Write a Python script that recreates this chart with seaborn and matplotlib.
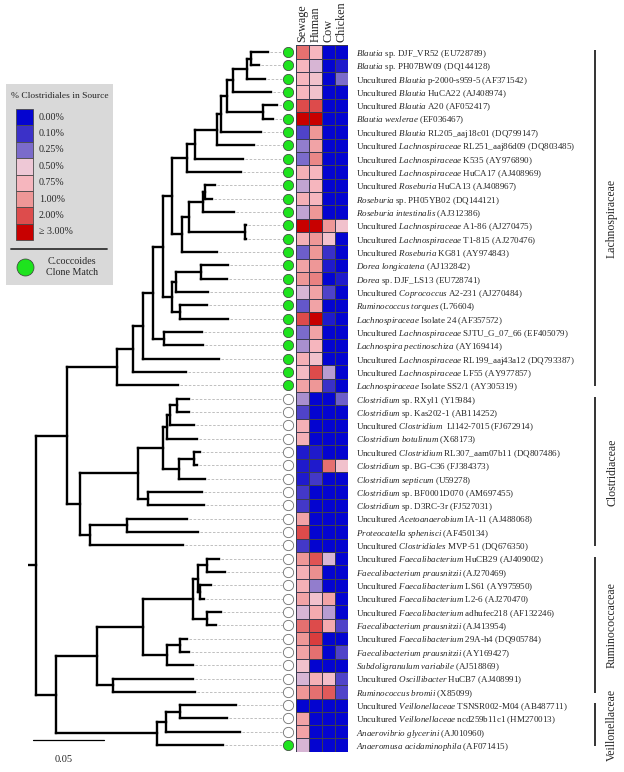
import re
import numpy as np
import pandas as pd
import matplotlib
matplotlib.use("Agg")
import matplotlib.pyplot as plt
import seaborn as sns
from matplotlib.colors import LinearSegmentedColormap
from matplotlib.collections import LineCollection
from matplotlib.patches import Rectangle

# ---------------- data ----------------
taxa = [
    "*Blautia* sp. DJF_VR52 (EU728789)",
    "*Blautia* sp. PH07BW09 (DQ144128)",
    "Uncultured *Blautia* p-2000-s959-5 (AF371542)",
    "Uncultured *Blautia* HuCA22 (AJ408974)",
    "Uncultured *Blautia* A20 (AF052417)",
    "*Blautia wexlerae* (EF036467)",
    "Uncultured *Blautia* RL205_aaj18c01 (DQ799147)",
    "Uncultured *Lachnospiraceae* RL251_aaj86d09 (DQ803485)",
    "Uncultured *Lachnospiraceae* K535 (AY976890)",
    "Uncultured *Lachnospiraceae* HuCA17 (AJ408969)",
    "Uncultured *Roseburia* HuCA13 (AJ408967)",
    "*Roseburia* sp. PH05YB02 (DQ144121)",
    "*Roseburia intestinalis* (AJ312386)",
    "Uncultured *Lachnospiraceae* A1-86 (AJ270475)",
    "Uncultured *Lachnospiraceae* T1-815 (AJ270476)",
    "Uncultured *Roseburia* KG81 (AY974843)",
    "*Dorea longicatena* (AJ132842)",
    "*Dorea* sp. DJF_LS13 (EU728741)",
    "Uncultured *Coprococcus* A2-231 (AJ270484)",
    "*Ruminococcus torques* (L76604)",
    "*Lachnospiraceae* Isolate 24 (AF357572)",
    "Uncultured *Lachnospiraceae* SJTU_G_07_66 (EF405079)",
    "*Lachnospira pectinoschiza* (AY169414)",
    "Uncultured *Lachnospiraceae* RL199_aaj43a12 (DQ793387)",
    "Uncultured *Lachnospiraceae* LF55 (AY977857)",
    "*Lachnospiraceae* Isolate SS2/1 (AY305319)",
    "*Clostridium* sp. RXyl1 (Y15984)",
    "*Clostridium* sp. Kas202-1 (AB114252)",
    "Uncultured *Clostridium*  Ll142-7015 (FJ672914)",
    "*Clostridium botulinum* (X68173)",
    "Uncultured *Clostridium* RL307_aam07b11 (DQ807486)",
    "*Clostridium* sp. BG-C36 (FJ384373)",
    "*Clostridium septicum* (U59278)",
    "*Clostridium* sp. BF0001D070 (AM697455)",
    "*Clostridium* sp. D3RC-3r (FJ527031)",
    "Uncultured *Acetoanaerobium* IA-11 (AJ488068)",
    "*Proteocatella sphenisci* (AF450134)",
    "Uncultured *Clostridiales* MVP-51 (DQ676350)",
    "Uncultured *Faecalibacterium* HuCB29 (AJ409002)",
    "*Faecalibacterium prausnitzii* (AJ270469)",
    "Uncultured *Faecalibacterium* LS61 (AY975950)",
    "Uncultured *Faecalibacterium* L2-6 (AJ270470)",
    "Uncultured *Faecalibacterium* adhufec218 (AF132246)",
    "*Faecalibacterium prausnitzii* (AJ413954)",
    "Uncultured *Faecalibacterium* 29A-h4 (DQ905784)",
    "*Faecalibacterium prausnitzii* (AY169427)",
    "*Subdoligranulum variabile* (AJ518869)",
    "Uncultured *Oscillibacter* HuCB7 (AJ408991)",
    "*Ruminococcus bromii* (X85099)",
    "Uncultured *Veillonellaceae* TSNSR002-M04 (AB487711)",
    "Uncultured *Veillonellaceae* ncd259b11c1 (HM270013)",
    "*Anaerovibrio glycerini* (AJ010960)",
    "*Anaeromusa acidaminophila* (AF071415)",
]

coccoides_match = [1] * 26 + [0] * 26 + [1]

sources = ["Sewage", "Human", "Cow", "Chicken"]
sewage = [1.5, 0.75, 0.75, 0.75, 2.0, 3.0, 0.15, 0.3, 0.25, 0.8, 0.4, 0.8, 0.4,
          3.0, 0.8, 0.22, 0.9, 1.0, 0.45, 0.2, 2.0, 0.25, 0.35, 0.8, 0.7, 0.9,
          0.35, 0.15, 0.8, 0.8, 0.05, 0.05, 0.05, 0.12, 0.12, 0.9, 2.0, 0.12,
          1.0, 0.8, 0.8, 0.9, 0.45, 1.5, 1.0, 0.9, 0.6, 0.45, 1.0,
          0.0, 0.9, 0.9, 0.45]
human = [0.75, 0.45, 0.6, 0.6, 2.0, 3.0, 1.0, 0.9, 1.2, 0.75, 0.75, 0.75, 1.0,
         3.0, 1.0, 1.0, 1.0, 1.3, 0.9, 0.9, 3.0, 0.9, 0.75, 0.6, 2.0, 1.0,
         0.0, 0.0, 0.0, 0.0, 0.05, 0.05, 0.12, 0.0, 0.0, 0.0, 0.0, 0.0,
         1.9, 1.1, 0.3, 0.6, 0.85, 2.0, 2.2, 1.5, 0.0, 0.8, 1.5,
         0.0, 0.0, 0.0, 0.0]
cow = [0.0, 0.0, 0.0, 0.0, 0.0, 0.0, 0.0, 0.0, 0.0, 0.0, 0.0, 0.0, 0.0,
       1.0, 0.6, 0.1, 0.05, 0.0, 0.15, 0.0, 0.05, 0.0, 0.0, 0.0, 0.38, 0.1,
       0.0, 0.0, 0.0, 0.0, 0.0, 1.5, 0.0, 0.0, 0.0, 0.0, 0.0, 0.0,
       0.45, 0.0, 0.0, 0.9, 0.38, 0.85, 0.0, 0.0, 0.0, 0.65, 1.8,
       0.0, 0.0, 0.0, 0.0]
chicken = [0.0, 0.05, 0.25, 0.0, 0.0, 0.0, 0.0, 0.0, 0.0, 0.0, 0.0, 0.0, 0.0,
           0.6, 0.0, 0.0, 0.0, 0.05, 0.0, 0.0, 0.0, 0.0, 0.0, 0.0, 0.0, 0.0,
           0.22, 0.0, 0.0, 0.0, 0.0, 0.6, 0.0, 0.0, 0.0, 0.0, 0.0, 0.0,
           0.0, 0.0, 0.0, 0.0, 0.0, 0.15, 0.0, 0.15, 0.0, 0.15, 0.15,
           0.0, 0.0, 0.0, 0.0]

legend_levels = [0.0, 0.10, 0.25, 0.50, 0.75, 1.00, 2.00, 3.00]
legend_labels = ["0.00%", "0.10%", "0.25%", "0.50%", "0.75%", "1.00%", "2.00%", "\u2265 3.00%"]
legend_colors = ["#0404D0", "#3B31C8", "#7B6BCB", "#EEC8D6", "#F6B6BE",
                 "#EE9797", "#DD4C4C", "#C80000"]

families = ["Lachnospiraceae", "Clostridiaceae", "Ruminococcaceae", "Veillonellaceae"]
family_first = [1, 27, 39, 50]
family_last = [26, 38, 49, 53]

# tree (Newick, branch lengths in substitutions/site; leaves = row numbers)
lachno_nwk = ("(((((("
              "((((((((1:0.0120,2:0.0056):0.0028,3:0.0127):0.0099,4:0.0268):0.0042,"
              "(5:0.0099,6:0.0070):0.0254):0.0042,7:0.0282):0.0028,8:0.0261):0.0155,"
              "9:0.0338):0.0056,10:0.0380)"
              ":0.0106,"
              "((((11:0.0070,12:0.0049):0.0014,13:0.0218):0.0099,(14:0.0007,15:0.0007):0.0394)"
              ":0.0049,16:0.0246)"
              ":0.0070):0.0063,"
              "(((17:0.0190,18:0.0183):0.0176,19:0.0225):0.0028,(20:0.0190,21:0.0338):0.0056)"
              ":0.0063):0.0070,"
              "(22:0.0268,23:0.0275):0.0077):0.0070,"
              "24:0.0535):0.0070,25:0.0373):0.0113,26:0.0430)")
clostri_nwk = ("((((((27:0.0085,28:0.0085):0.0049,29:0.0169):0.0021,30:0.0211):0.0028,"
               "((31:0.0042,32:0.0021):0.0106,33:0.0183):0.0113):0.0176,"
               "(34:0.0380,35:0.0394):0.0070):0.0408,"
               "((36:0.0423,37:0.0500):0.0261,38:0.0655):0.0070)")
rumino_nwk = ("(((((39:0.0085,40:0.0127):0.0063,(41:0.0077,42:0.0028):0.0014):0.0035,"
              "(43:0.0099,44:0.0063):0.0099):0.0352,"
              "((45:0.0049,46:0.0063):0.0092,47:0.0183):0.0169):0.0324,"
              "(48:0.0563,49:0.0577):0.0113)")
veillon_nwk = "(((50:0.0394,51:0.0331):0.0099,52:0.0521):0.0063,53:0.0465)"
tree_nwk = ("((" + lachno_nwk + ":0.0352," + clostri_nwk + ":0.0092):0.0218,("
            + rumino_nwk + ":0.0289," + veillon_nwk + ":0.0711):0.0141):0.0056;")

scale_bar_len = 0.05


# ---------------- helpers ----------------
def parse_newick(s):
    s = s.strip().rstrip(";")
    pos = 0

    def node():
        nonlocal pos
        children = []
        if s[pos] == "(":
            pos += 1
            while True:
                children.append(node())
                if s[pos] == ",":
                    pos += 1
                    continue
                pos += 1  # ')'
                break
        start = pos
        while pos < len(s) and s[pos] not in ":,()":
            pos += 1
        name = s[start:pos]
        length = 0.0
        if pos < len(s) and s[pos] == ":":
            pos += 1
            start = pos
            while pos < len(s) and s[pos] not in ",()":
                pos += 1
            length = float(s[start:pos])
        return {"name": name, "len": length, "children": children}

    return node()


def layout(nd, x0):
    nd["x"] = x0 + nd["len"]
    if nd["children"]:
        for c in nd["children"]:
            layout(c, nd["x"])
        nd["y"] = 0.5 * (nd["children"][0]["y"] + nd["children"][-1]["y"])
    else:
        nd["y"] = int(nd["name"]) - 0.5


def collect(nd, segs, leaves):
    if nd["children"]:
        ys = [c["y"] for c in nd["children"]]
        segs.append([(nd["x"], min(ys)), (nd["x"], max(ys))])
        for c in nd["children"]:
            segs.append([(nd["x"], c["y"]), (c["x"], c["y"])])
            collect(c, segs, leaves)
    else:
        leaves.append(nd)


def to_mathtext(s):
    return re.sub(r"\*(.+?)\*",
                  lambda m: r"$\mathit{" + m.group(1).replace(" ", r"\ ") + "}$", s)


# ---------------- style ----------------
sns.set_theme(style="white")
plt.rcParams["font.family"] = ["Liberation Serif", "DejaVu Serif"]
plt.rcParams["mathtext.fontset"] = "custom"
plt.rcParams["mathtext.rm"] = "Liberation Serif"
plt.rcParams["mathtext.it"] = "Liberation Serif:italic"
plt.rcParams["mathtext.bf"] = "Liberation Serif:bold"

W, H = 624, 772
n = len(taxa)
top_px, row_h = 45.33, 13.33
bot_px = top_px + n * row_h
px_per_unit = 1420.0
tree_left, heat_left, heat_right = 28, 296, 348
green = "#1EE31E"

fig = plt.figure(figsize=(W / 100, H / 100), dpi=100)
fig.patch.set_facecolor("white")

# ---------------- tree ----------------
tax = fig.add_axes([tree_left / W, 1 - bot_px / H, (heat_left - tree_left) / W, n * row_h / H])
tax.set_xlim(0, (heat_left - tree_left) / px_per_unit)
tax.set_ylim(n, 0)
tax.axis("off")

root = parse_newick(tree_nwk)
layout(root, 0.0)
segs, leaves = [], []
segs.append([(0.0, root["y"]), (root["x"], root["y"])])
collect(root, segs, leaves)
tax.add_collection(LineCollection(segs, colors="black", linewidths=1.7,
                                  capstyle="projecting"))

circle_x = (288 - tree_left) / px_per_unit
dash_end = (283 - tree_left) / px_per_unit
for lf in leaves:
    tax.plot([lf["x"] + 2 / px_per_unit, dash_end], [lf["y"], lf["y"]],
             color="#b5b5b5", lw=0.6, ls=(0, (3, 2)), zorder=1)

ys = np.arange(n) + 0.5
match = np.array(coccoides_match, dtype=bool)
tax.scatter(np.full(match.sum(), circle_x), ys[match], s=55, c=green,
            edgecolors="#3a3a3a", linewidths=0.5, zorder=3, clip_on=False)
tax.scatter(np.full((~match).sum(), circle_x), ys[~match], s=55, c="white",
            edgecolors="#707070", linewidths=0.6, zorder=3, clip_on=False)

# scale bar
sb_x0 = (33 - tree_left) / px_per_unit
sb_y = (740 - top_px) / row_h
tax.plot([sb_x0, sb_x0 + scale_bar_len], [sb_y, sb_y], color="black", lw=0.9,
         clip_on=False)
tax.text(sb_x0 + scale_bar_len * 0.43, (760 - top_px) / row_h, f"{scale_bar_len:.2f}",
         ha="center", va="center", fontsize=7.5, clip_on=False)

# ---------------- heatmap ----------------
df = pd.DataFrame({"Sewage": sewage, "Human": human, "Cow": cow, "Chicken": chicken},
                  index=range(1, n + 1))[sources]
df_lvl = df.apply(lambda col: np.interp(col, legend_levels, np.arange(len(legend_levels))))
cmap = LinearSegmentedColormap.from_list(
    "clos", list(zip(np.linspace(0, 1, len(legend_colors)), legend_colors)))

hax = fig.add_axes([heat_left / W, 1 - bot_px / H, (heat_right - heat_left) / W, n * row_h / H])
sns.heatmap(df_lvl, ax=hax, cmap=cmap, vmin=0, vmax=len(legend_levels) - 1, cbar=False,
            linewidths=0.5, linecolor="#3c3c50", xticklabels=sources, yticklabels=False)
hax.xaxis.tick_top()
hax.set_xticklabels(sources, rotation=90, fontsize=8.7, va="bottom", ha="center")
hax.tick_params(axis="x", length=0, pad=2.5)
hax.set_xlabel("")
hax.set_ylabel("")

col_px = (heat_right - heat_left) / len(sources)
label_x = len(sources) + (356 - heat_right) / col_px
for i, lab in enumerate(taxa):
    hax.text(label_x, i + 0.5, to_mathtext(lab), fontsize=6.5, ha="left",
             va="center_baseline", clip_on=False)

bar_x = len(sources) + (595 - heat_right) / col_px
fam_x = len(sources) + (612 - heat_right) / col_px
for fam, a, b in zip(families, family_first, family_last):
    hax.plot([bar_x, bar_x], [a - 0.65, b - 0.45], color="#333333", lw=1.4,
             clip_on=False, solid_capstyle="butt")
    hax.text(fam_x, 0.5 * (a + b) - 0.5, fam, rotation=90, ha="center", va="center",
             fontsize=8.5, clip_on=False)

# ---------------- legend box ----------------
lax = fig.add_axes([6 / W, 1 - 285 / H, 107 / W, 201 / H])
lax.set_xlim(0, 107)
lax.set_ylim(201, 0)
lax.set_facecolor("#d9d9d9")
lax.set_xticks([])
lax.set_yticks([])
for sp in lax.spines.values():
    sp.set_visible(False)
lax.text(53.5, 12, "% Clostridiales in Source", ha="center", va="center", fontsize=6.8)
sw_h = 16.4
for k, (c, lab) in enumerate(zip(legend_colors, legend_labels)):
    lax.add_patch(Rectangle((10, 25 + k * sw_h), 17, sw_h, facecolor=c,
                            edgecolor="#4a4a4a", lw=0.6))
    lax.text(33, 25 + k * sw_h + sw_h / 2, lab, ha="left", va="center", fontsize=7.2)
lax.plot([5, 101], [165, 165], color="#333333", lw=1.3)
lax.scatter([19], [183], s=150, c=green, edgecolors="#3a3a3a", linewidths=0.5)
lax.text(66, 177, "C.coccoides", ha="center", va="center", fontsize=7.2)
lax.text(66, 188.5, "Clone Match", ha="center", va="center", fontsize=7.2)

fig.savefig("out.png", dpi=100, facecolor="white")
